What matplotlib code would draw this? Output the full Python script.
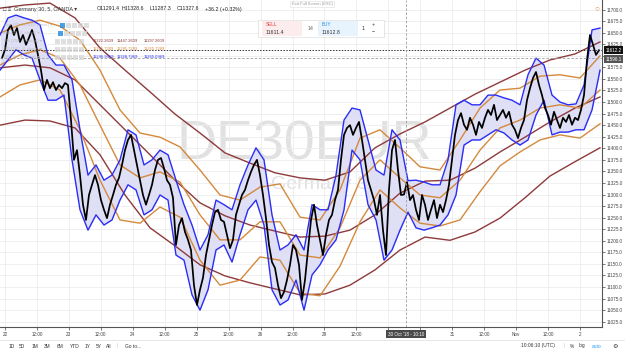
import numpy as np
import matplotlib.pyplot as plt
from matplotlib.patches import Rectangle

plt.rcParams["font.family"] = ["Liberation Sans", "DejaVu Sans"]

# ---- data (time in days from 22 Oct 00:00, trading days only) ----
price_t0, price_dt = -0.047, 0.04695
price = [11595, 11613, 11656, 11666, 11645, 11660, 11630, 11645, 11624, 11639,
         11656, 11634, 11602, 11569, 11526, 11548, 11530, 11543, 11526, 11537,
         11530, 11541, 11537, 11461, 11375, 11396, 11342, 11278, 11245, 11299,
         11321, 11342, 11321, 11288, 11267, 11249, 11278, 11299, 11321, 11336,
         11364, 11396, 11418, 11429, 11396, 11364, 11331, 11299, 11278, 11299,
         11321, 11353, 11375, 11379, 11357, 11331, 11321, 11293, 11191, 11234,
         11249, 11219, 11202, 11180, 11104, 11061, 11094, 11120, 11169, 11202,
         11234, 11262, 11267, 11245, 11241, 11213, 11184, 11202, 11256, 11278,
         11299, 11310, 11331, 11349, 11364, 11375, 11342, 11299, 11249, 11191,
         11154, 11141, 11104, 11076, 11089, 11115, 11148, 11191, 11180, 11148,
         11072, 11115, 11180, 11245, 11278, 11234, 11202, 11169, 11213, 11245,
         11256, 11288, 11310, 11375, 11429, 11444, 11450, 11429, 11444, 11457,
         11418, 11375, 11331, 11310, 11288, 11256, 11299, 11223, 11169, 11310,
         11396, 11418, 11353, 11299, 11300, 11327, 11288, 11299, 11267, 11245,
         11299, 11278, 11245, 11267, 11288, 11249, 11278, 11262, 11288, 11321,
         11375, 11429, 11461, 11476, 11451, 11440, 11466, 11451, 11429, 11457,
         11444, 11466, 11483, 11472, 11494, 11461, 11472, 11483, 11466, 11479,
         11451, 11440, 11422, 11444, 11461, 11504, 11530, 11552, 11565, 11537,
         11515, 11487, 11472, 11451, 11479, 11461, 11444, 11466, 11457, 11472,
         11451, 11466, 11461, 11483, 11515, 11591, 11645, 11624, 11602, 11612]

blue_t0, blue_dt = -0.078, 0.1252
blue_upper = [11645, 11682, 11688, 11682, 11677, 11667, 11602, 11580, 11580, 11548,
              11440, 11342, 11364, 11331, 11342, 11375, 11440, 11429, 11364, 11375,
              11396, 11386, 11331, 11278, 11234, 11180, 11213, 11288, 11278, 11267,
              11321, 11364, 11401, 11375, 11256, 11180, 11191, 11213, 11180, 11278,
              11267, 11267, 11342, 11461, 11487, 11483, 11418, 11353, 11342, 11440,
              11418, 11330, 11331, 11327, 11321, 11321, 11375, 11494, 11504, 11494,
              11494, 11515, 11515, 11509, 11504, 11494, 11559, 11595, 11580, 11515,
              11500, 11494, 11496, 11537, 11656, 11660]
blue_lower = [11569, 11591, 11613, 11602, 11595, 11548, 11504, 11504, 11515, 11375,
              11267, 11223, 11256, 11234, 11245, 11288, 11321, 11310, 11256, 11267,
              11299, 11288, 11169, 11158, 11083, 11050, 11094, 11180, 11191, 11154,
              11213, 11267, 11288, 11234, 11094, 11061, 11072, 11115, 11050, 11126,
              11148, 11180, 11202, 11267, 11396, 11375, 11278, 11245, 11158, 11180,
              11223, 11262, 11228, 11223, 11228, 11234, 11256, 11299, 11407, 11418,
              11418, 11429, 11440, 11433, 11418, 11407, 11418, 11472, 11504, 11429,
              11435, 11435, 11440, 11440, 11483, 11569]

orange_t0, orange_dt = -0.078, 0.31299
orange_upper = [11649, 11667, 11677, 11664, 11634, 11569, 11483, 11433, 11424, 11403,
                11353, 11299, 11288, 11316, 11323, 11251, 11245, 11310, 11422, 11440,
                11401, 11360, 11353, 11418, 11487, 11526, 11530, 11556, 11559, 11552,
                11600]
orange_mid = [11580, 11602, 11613, 11595, 11537, 11450, 11364, 11336, 11349, 11327,
              11256, 11202, 11202, 11241, 11241, 11169, 11163, 11228, 11331, 11375,
              11336, 11299, 11293, 11331, 11396, 11444, 11461, 11487, 11494, 11487,
              11526]
orange_lower = [11511, 11537, 11548, 11526, 11440, 11331, 11245, 11238, 11273, 11251,
                11158, 11104, 11115, 11165, 11158, 11087, 11081, 11145, 11241, 11310,
                11271, 11238, 11232, 11245, 11306, 11362, 11392, 11418, 11429, 11422,
                11453]

brown_t0, brown_dt = -0.078, 0.39124
brown_upper = [11703, 11710, 11714, 11682, 11617, 11569, 11522, 11474, 11433, 11390,
               11368, 11347, 11336, 11331, 11349, 11401, 11431, 11457, 11487, 11517,
               11543, 11569, 11591, 11604, 11630]
brown_mid = [11574, 11580, 11574, 11548, 11494, 11440, 11386, 11331, 11282, 11254,
             11234, 11221, 11208, 11210, 11223, 11256, 11303, 11329, 11331, 11357,
             11392, 11424, 11457, 11487, 11511]
brown_lower = [11450, 11461, 11459, 11444, 11386, 11299, 11228, 11189, 11148, 11124,
               11109, 11096, 11083, 11085, 11104, 11137, 11180, 11208, 11201, 11219,
               11249, 11293, 11340, 11371, 11401]

# "30" and its 12:00 sit under the crosshair date tag
tick_labels = ["22", "12:00", "23", "12:00", "24", "12:00", "25", "12:00", "26", "12:00",
               "29", "12:00", "", "", "31", "12:00", "Nov", "12:00", "2"]
last_price = 11612.2
cursor_price = 11596.1
cursor_day = 6.275

BLUE = "#2a2df5"
ORANGE = "#d4893c"
BROWN = "#8e3a3a"
W, H = 625, 352


def fx(px):
    return px / W


def fy(py):
    return 1 - py / H


fig = plt.figure(figsize=(6.25, 3.52), dpi=100)
ax = fig.add_axes([0, 25 / H, 602 / W, 1 - 25 / H])

t_price = price_t0 + price_dt * np.arange(len(price))
t_blue = blue_t0 + blue_dt * np.arange(len(blue_upper))
t_orange = orange_t0 + orange_dt * np.arange(len(orange_mid))
t_brown = brown_t0 + brown_dt * np.arange(len(brown_mid))

# watermark
ax.text(0.505, 0.555, "DE30EUR", transform=ax.transAxes, fontsize=40,
        color="#e1e1e1", ha="center", va="center", zorder=0.5)
ax.text(0.54, 0.435, "Germany 30", transform=ax.transAxes, fontsize=14,
        color="#e1e1e1", ha="center", va="center", zorder=0.5)

# bands
for series in (brown_upper, brown_mid, brown_lower):
    ax.plot(t_brown, series, color=BROWN, lw=1.0, zorder=2)
for series in (orange_upper, orange_mid, orange_lower):
    ax.plot(t_orange, series, color=ORANGE, lw=1.0, zorder=2)
ax.fill_between(t_blue, blue_lower, blue_upper, color="#dcdcf6", alpha=0.9, lw=0, zorder=1.5)
ax.plot(t_blue, blue_upper, color=BLUE, lw=1.0, zorder=3)
ax.plot(t_blue, blue_lower, color=BLUE, lw=1.0, zorder=3)

ax.plot(t_price, price, color="black", lw=1.25, zorder=4)

# price / crosshair lines
ax.axhline(last_price, color="#333333", lw=0.7, ls=(0, (1.5, 1.5)), zorder=5)
ax.axhline(cursor_price, color="#9a9a9a", lw=0.6, ls=(0, (3, 2)), zorder=5)
ax.axvline(cursor_day, color="#9a9a9a", lw=0.6, ls=(0, (3, 2)), zorder=5)

# axes styling
ax.set_xlim(-0.078, 9.343)
ax.set_ylim(11013.5, 11720.7)
yt = np.arange(11025, 11701, 25)
ax.set_yticks(yt)
# 11600.0 is covered by the price tags on the axis
ax.set_yticklabels(["" if v == 11600 else f"{v:.1f}" for v in yt])
ax.yaxis.tick_right()
ax.set_xticks(np.arange(0, 9.01, 0.5))
ax.set_xticklabels(tick_labels)
ax.tick_params(axis="both", labelsize=3.3, colors="#444444", length=2, width=0.5, pad=1.5)
ax.grid(True, color="#ececec", lw=0.6, zorder=0)
ax.set_axisbelow(True)
for side in ("top", "left"):
    ax.spines[side].set_visible(False)
for side in ("right", "bottom"):
    ax.spines[side].set_color("#555555")
    ax.spines[side].set_linewidth(0.8)

# axis value tags
ax.text(1.006, last_price, "11612.2", transform=ax.get_yaxis_transform(), fontsize=3.3,
        color="white", va="center", ha="left", zorder=6,
        bbox=dict(boxstyle="square,pad=0.3", fc="#111111", ec="none"), clip_on=False)
ax.text(1.006, cursor_price - 3, "11596.1", transform=ax.get_yaxis_transform(), fontsize=3.3,
        color="white", va="center", ha="left", zorder=6,
        bbox=dict(boxstyle="square,pad=0.3", fc="#555555", ec="none"), clip_on=False)
ax.text(cursor_day, -0.014, "30 Oct '18 - 10:10", transform=ax.get_xaxis_transform(),
        fontsize=3.3, color="white", va="top", ha="center", zorder=6,
        bbox=dict(boxstyle="square,pad=0.35", fc="#4a4a4a", ec="none"), clip_on=False)

# legend block
fig.text(fx(3), fy(9), "\u25a1 \u2261  Germany 30, 5, OANDA \u25be", fontsize=4.0, color="#333333", va="center")
for px, s in ((97, "O11291.4"), (122, "H11328.6"), (150, "L11287.3"), (177, "C11327.6"),
              (205, "+36.2 (+0.32%)")):
    fig.text(fx(px), fy(9), s, fontsize=3.8, color="#222222", va="center")
for py, lab in ((25, "Env (32, 15.625, close) \u25be"), (33, "BB (50, 2, close) \u25be"),
                (41, "BB (250, 2, close) \u25be"), (49, "BB (100, 2, close) \u25be"),
                (57, "BB (20, 2, close) \u25be")):
    fig.text(fx(4), fy(py), lab, fontsize=3.2, color="#b5b5b5", va="center", alpha=0.8)
for py, col, vals in ((41, BROWN, ("11322.2609", "11447.2609", "11197.2609")),
                      (49, ORANGE, ("11325.7289", "11385.7289", "11265.7289")),
                      (57, BLUE, ("11296.9469", "11328.7969", "11265.0969"))):
    for px, s in zip((93, 117, 144), vals):
        fig.text(fx(px), fy(py), s, fontsize=3.0, color=col, va="center")
for py, x0 in ((25, 60), (33, 58), (41, 55), (49, 55), (57, 55)):
    for k in range(5):
        fig.patches.append(Rectangle((fx(x0 + k * 6), fy(py + 2.5)), fx(5), 5 / H,
                                     transform=fig.transFigure,
                                     fc="#1e88e5" if k == 0 and py < 40 else "#d8d8d8",
                                     ec="none", alpha=0.8))

# sell / buy widget
fig.patches.append(Rectangle((fx(258), fy(37)), fx(126), 17 / H, transform=fig.transFigure,
                             fc="white", ec="#dddddd", lw=0.5, zorder=5))
fig.patches.append(Rectangle((fx(262), fy(36)), fx(40), 15 / H, transform=fig.transFigure,
                             fc="#fdecee", ec="none", zorder=6))
fig.patches.append(Rectangle((fx(318), fy(36)), fx(40), 15 / H, transform=fig.transFigure,
                             fc="#e8f4fd", ec="none", zorder=6))
fig.text(fx(266), fy(25), "SELL", fontsize=3.3, color="#e53935", zorder=7, va="center")
fig.text(fx(266), fy(32), "11611.4", fontsize=3.8, color="#333333", zorder=7, va="center")
fig.text(fx(310), fy(29), "14", fontsize=3.8, color="#666666", zorder=7, va="center", ha="center")
fig.text(fx(322), fy(25), "BUY", fontsize=3.3, color="#1e88e5", zorder=7, va="center")
fig.text(fx(322), fy(32), "11612.8", fontsize=3.8, color="#333333", zorder=7, va="center")
fig.text(fx(362), fy(29), "1", fontsize=3.8, color="#333333", zorder=7, va="center")
fig.text(fx(372), fy(25), "+", fontsize=3.8, color="#333333", zorder=7, va="center")
fig.text(fx(372), fy(32), "\u2212", fontsize=3.8, color="#333333", zorder=7, va="center")
fig.text(fx(312), fy(4), "Exit Full Screen (ESC)", fontsize=3.0, color="#999999", ha="center", va="center",
         bbox=dict(boxstyle="square,pad=0.3", fc="white", ec="#dddddd", lw=0.4))
fig.text(fx(597), fy(9), "\u25cb", fontsize=6, color="#f0904a", ha="center", va="center")

# bottom toolbar
fig.add_artist(plt.Line2D([0, 1], [fy(340), fy(340)], color="#e2e2e2", lw=0.6))
for px, s in ((9, "1D"), (19, "5D"), (32, "1M"), (44, "3M"), (57, "6M"), (70, "YTD"),
              (85, "1Y"), (96, "5Y"), (106, "All"), (125, "Go to...")):
    fig.text(fx(px), fy(346), s, fontsize=3.5, color="#333333", va="center")
fig.text(fx(117), fy(346), "|", fontsize=3.5, color="#cccccc", va="center")
fig.text(fx(521), fy(346), "10:06:10 (UTC)", fontsize=3.5, color="#333333", va="center")
fig.text(fx(564), fy(346), "|", fontsize=3.5, color="#cccccc", va="center")
fig.text(fx(570), fy(346), "%", fontsize=3.5, color="#333333", va="center")
fig.text(fx(579), fy(346), "log", fontsize=3.5, color="#333333", va="center")
fig.text(fx(592), fy(346), "auto", fontsize=3.5, color="#2196f3", va="center")
fig.text(fx(612), fy(346), "\u2699", fontsize=4.5, color="#333333", va="center")

fig.savefig("out.png", dpi=100)
plt.close(fig)
